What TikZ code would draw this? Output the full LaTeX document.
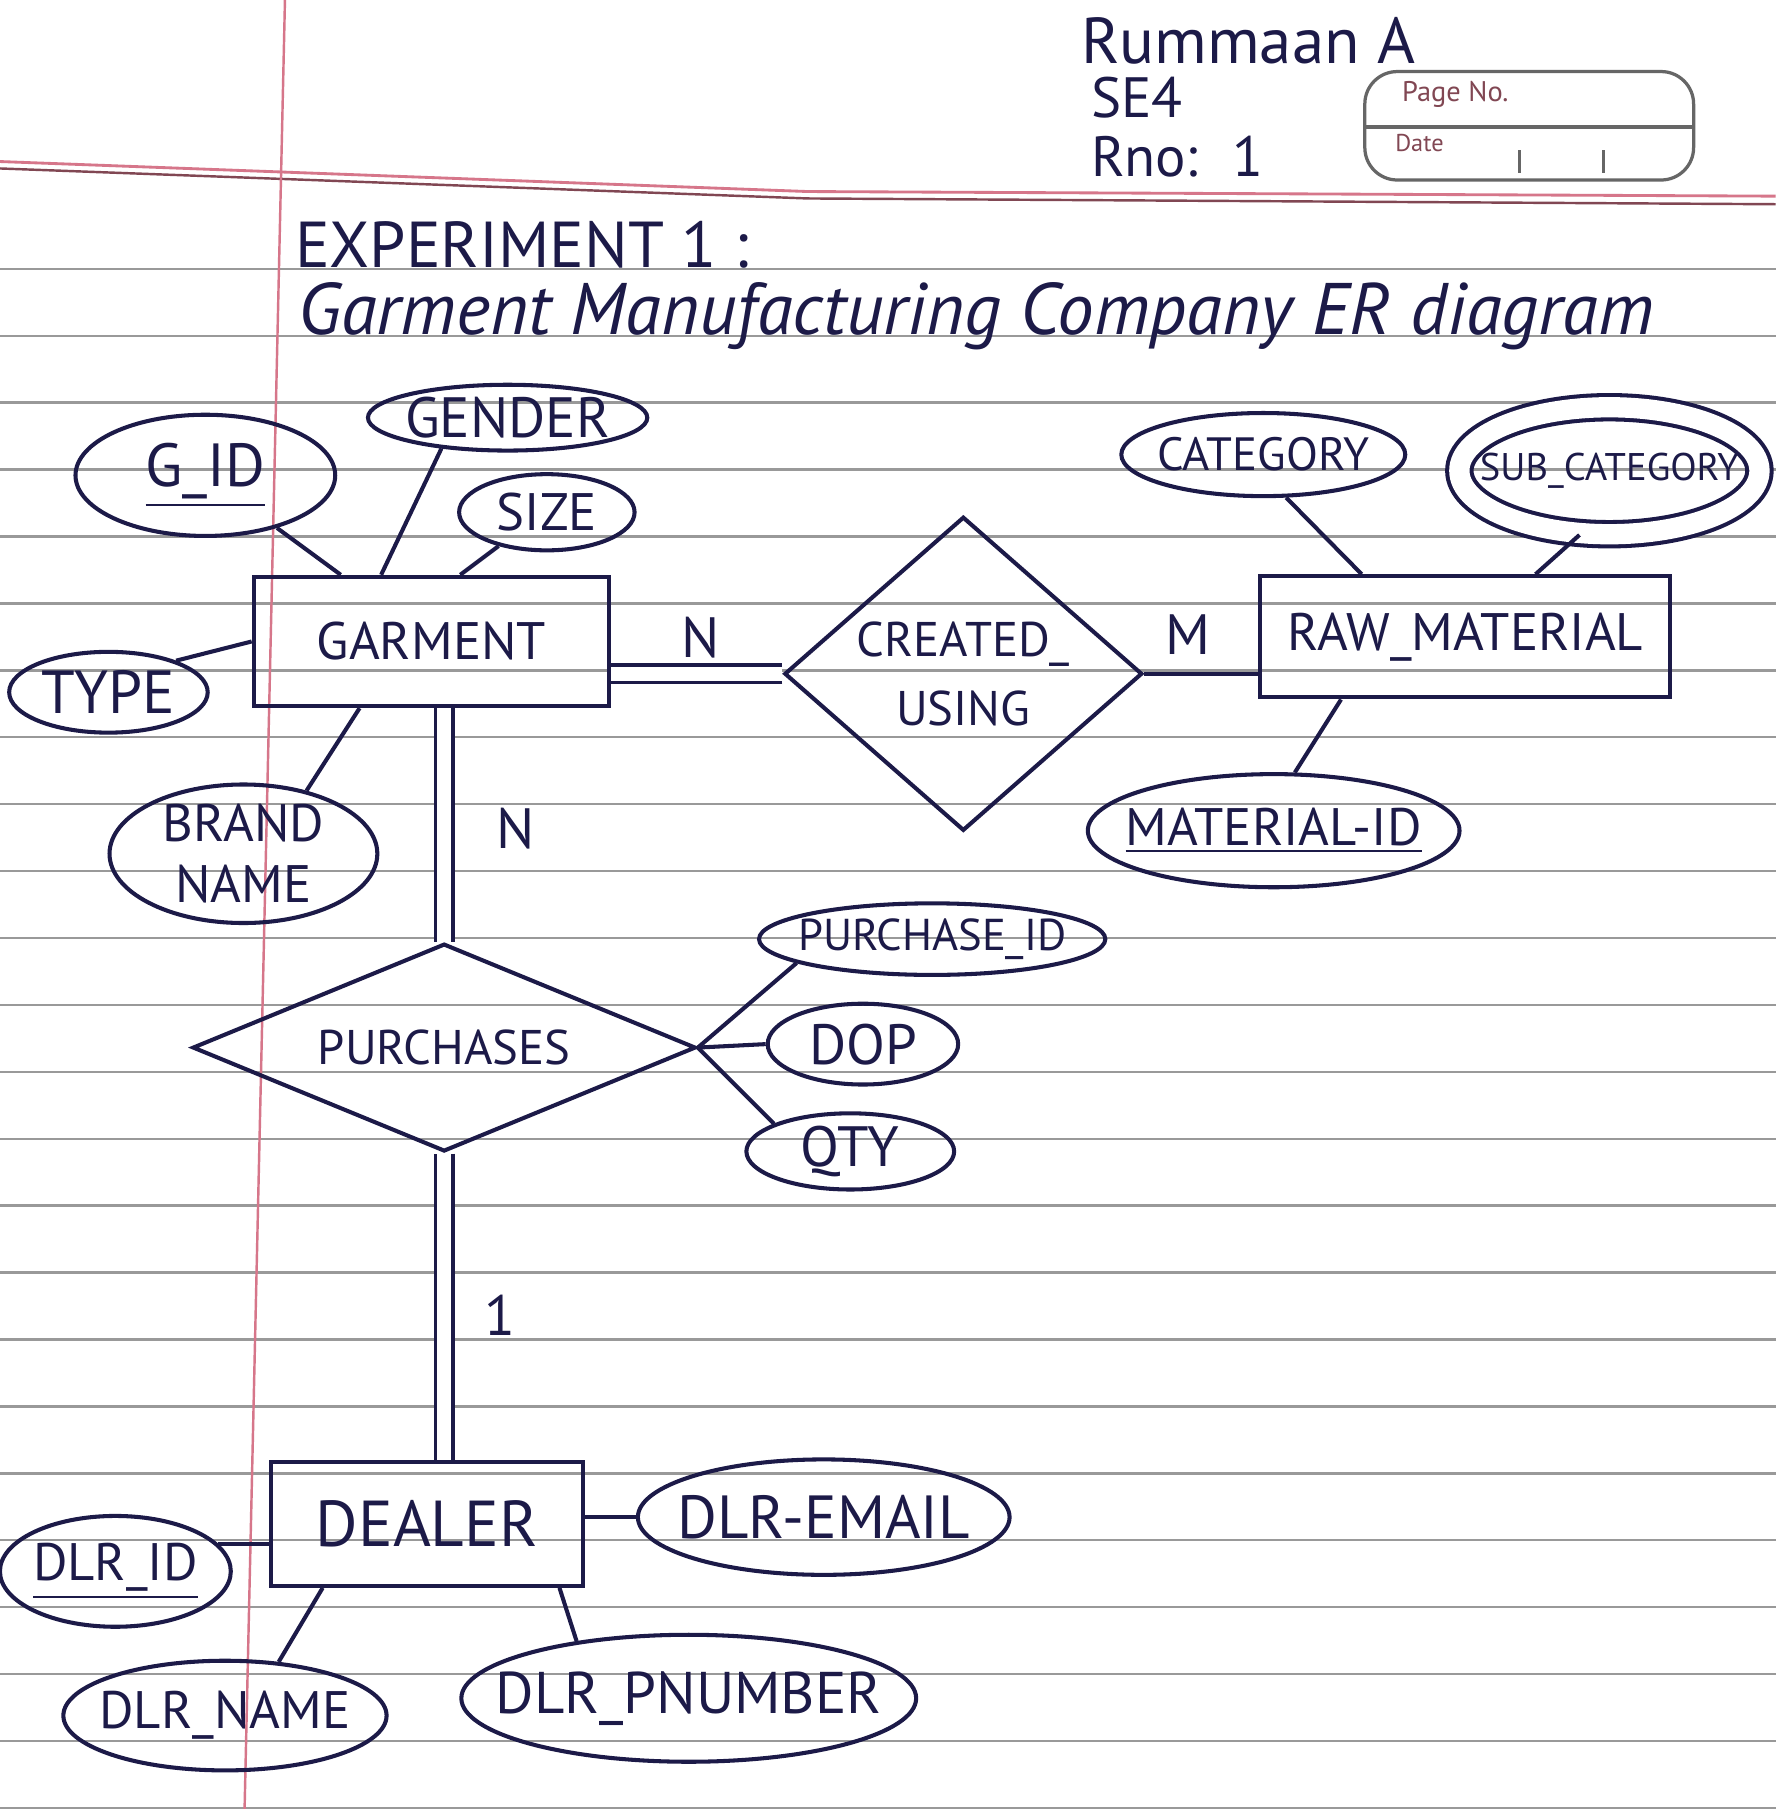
\documentclass[tikz,border=0pt]{standalone}
\usepackage{fontspec}
\setmainfont{PT Sans}
\usetikzlibrary{shapes.geometric,calc}

\definecolor{ink}{RGB}{28,26,72}
\definecolor{margin}{RGB}{214,118,138}

\tikzset{
  hand/.style={text=ink, inner sep=0pt, font=\fontsize{16}{19}\selectfont},
  ent/.style={draw=ink, line width=1pt, text=ink, inner sep=0pt, font=\fontsize{13}{15}\selectfont},
  attr/.style={ellipse, draw=ink, line width=1pt, text=ink, inner xsep=-8pt, inner ysep=-3pt, font=\fontsize{13}{15}\selectfont},
  rel/.style={diamond, draw=ink, line width=1pt, text=ink, inner sep=0pt, align=center, font=\fontsize{12}{17}\selectfont},
  link/.style={draw=ink, line width=1pt},
  dbl/.style={draw=ink, line width=0.9pt, double, double distance=3.4pt},
  card/.style={text=ink, font=\fontsize{14}{16}\selectfont},
  rule/.style={black!40, line width=0.6pt}
}

\begin{document}
\begin{tikzpicture}[x=0.01cm, y=-0.01cm]
  \fill[white] (0,0) rectangle (1539,1568);
  \useasboundingbox (0,0) rectangle (1539,1568);

  % ruled page
  \foreach \y in {233,291,...,1567}
    \draw[rule] (0,\y) -- (1539,\y);
  \draw[margin, line width=0.7pt] (0,140) -- (700,166) -- (1539,170);
  \draw[margin!60!black, line width=0.6pt] (0,146) -- (700,172) -- (1539,177);
  \draw[margin, line width=0.6pt] (247,0) -- (212,1568);

  % page no / date box
  \draw[black!60, line width=0.8pt, rounded corners=8pt] (1183,62) rectangle (1468,156);
  \draw[black!60, line width=0.8pt] (1183,110) -- (1468,110);
  \draw[black!60, line width=0.8pt] (1317,130) -- (1317,150) (1390,130) -- (1390,150);
  \node[text=margin!60!black, font=\fontsize{7}{8}\selectfont, anchor=west] (pageno) at (1203,82) {Page No.};
  \node[text=margin!60!black, font=\fontsize{6}{7}\selectfont, anchor=west] (date) at (1197,124) {Date};

  % header
  \node[hand] (author) at (1082,35) {Rummaan A};
  \node[hand, anchor=west, font=\fontsize{14}{16}\selectfont] (div) at (945,85) {SE4};
  \node[hand, anchor=west, font=\fontsize{14}{16}\selectfont] (rno) at (945,136) {Rno:\hspace{0.6em}1};
  \node[hand, anchor=west] (expt) at (255,212) {EXPERIMENT 1 :};
  \node[hand, anchor=base west, font=\itshape\fontsize{18}{21}\selectfont] (title) at (258,290)
    {Garment Manufacturing Company ER diagram};

  % entities
  \node[ent, minimum width=3.08cm, minimum height=1.12cm] (garment) at (374,556) {GARMENT};
  \node[ent, minimum width=3.55cm, minimum height=1.05cm] (rawmat) at (1270,552) {RAW\_MATERIAL};
  \node[ent, minimum width=2.70cm, minimum height=1.07cm, font=\fontsize{16}{18}\selectfont] (dealer) at (370,1321) {DEALER};

  % relationships
  \node[rel, minimum width=3.10cm, minimum height=2.72cm, aspect=1.14] (created) at (835,584) {CREATED\_\\USING};
  \node[rel, minimum width=4.36cm, minimum height=1.80cm, aspect=2.4] (purch) at (385,908) {PURCHASES};

  % attributes of garment
  \node[attr, minimum width=2.25cm, minimum height=1.05cm, font=\fontsize{15}{17}\selectfont] (gid) at (178,412) {\underline{G\_ID}};
  \node[attr, minimum width=2.42cm, minimum height=0.57cm, font=\fontsize{14}{16}\selectfont] (gender) at (440,362) {GENDER};
  \node[attr, minimum width=1.52cm, minimum height=0.66cm] (size) at (474,444) {SIZE};
  \node[attr, minimum width=1.72cm, minimum height=0.70cm, font=\fontsize{15}{17}\selectfont] (type) at (94,600) {TYPE};
  \node[attr, minimum width=2.32cm, minimum height=1.20cm, align=center] (brand) at (211,740) {BRAND\\NAME};

  % attributes of raw material
  \node[attr, minimum width=2.46cm, minimum height=0.72cm, font=\fontsize{11.5}{13}\selectfont] (category) at (1095,394) {CATEGORY};
  \node[attr, double, double distance=5pt, minimum width=2.60cm, minimum height=1.10cm, font=\fontsize{9.5}{11}\selectfont] (subcat) at (1395,408) {SUB\_CATEGORY};
  \node[attr, minimum width=3.22cm, minimum height=0.98cm] (matid) at (1104,720) {\underline{MATERIAL-ID}};

  % attributes of purchases
  \node[attr, minimum width=3.00cm, minimum height=0.62cm, font=\fontsize{11}{13}\selectfont] (pid) at (808,814) {PURCHASE\_ID};
  \node[attr, minimum width=1.65cm, minimum height=0.70cm, font=\fontsize{14}{16}\selectfont] (dop) at (748,905) {DOP};
  \node[attr, minimum width=1.80cm, minimum height=0.66cm, font=\fontsize{14}{16}\selectfont] (qty) at (737,998) {QTY};

  % attributes of dealer
  \node[attr, minimum width=2.00cm, minimum height=0.96cm] (dlrid) at (100,1362) {\underline{DLR\_ID}};
  \node[attr, minimum width=3.22cm, minimum height=1.00cm, font=\fontsize{15}{17}\selectfont] (dlremail) at (714,1315) {DLR-EMAIL};
  \node[attr, minimum width=2.80cm, minimum height=0.95cm] (dlrname) at (195,1487) {DLR\_NAME};
  \node[attr, minimum width=3.94cm, minimum height=1.10cm, font=\fontsize{14.5}{17}\selectfont] (dlrpnum) at (597,1472) {DLR\_PNUMBER};

  % relationship lines
  \draw[dbl] (created.west) -- (created.west -| garment.east);
  \draw[link] (created.east) -- (created.east -| rawmat.west);
  \draw[dbl] (purch.north) -- (purch.north |- garment.south);
  \draw[dbl] (purch.south) -- (purch.south |- dealer.north);

  % cardinalities
  \node[card] (cardn1) at (607,553) {N};
  \node[card] (cardm) at (1030,550) {M};
  \node[card] (cardn2) at (447,718) {N};
  \node[card] (cardone) at (433,1140) {1};

  % attribute lines
  \draw[link] (gid) -- (garment);
  \draw[link] (gender.205) -- ($(garment.north west)!0.36!(garment.north east)$);
  \draw[link] (size.215) -- ($(garment.north west)!0.58!(garment.north east)$);
  \draw[link] (type.25) -- (garment.west);
  \draw[link] (brand.45) -- ($(garment.south west)!0.3!(garment.south east)$);
  \draw[link] (category.-62) -- ($(rawmat.north west)!0.25!(rawmat.north east)$);
  \draw[link] (subcat.-115) -- ($(rawmat.north west)!0.67!(rawmat.north east)$);
  \draw[link] (matid.70) -- ($(rawmat.south west)!0.2!(rawmat.south east)$);
  \draw[link] (purch.east) -- (pid.190);
  \draw[link] (purch.east) -- (dop.west);
  \draw[link] (purch.east) -- (qty.160);
  \draw[link] (dlrid.15) -- (dlrid.15 -| dealer.west);
  \draw[link] (dlremail.west) -- (dlremail.west -| dealer.east);
  \draw[link] (dlrname.45) -- ($(dealer.south west)!0.17!(dealer.south east)$);
  \draw[link] (dlrpnum.153) -- ($(dealer.south west)!0.92!(dealer.south east)$);
\end{tikzpicture}
\end{document}
